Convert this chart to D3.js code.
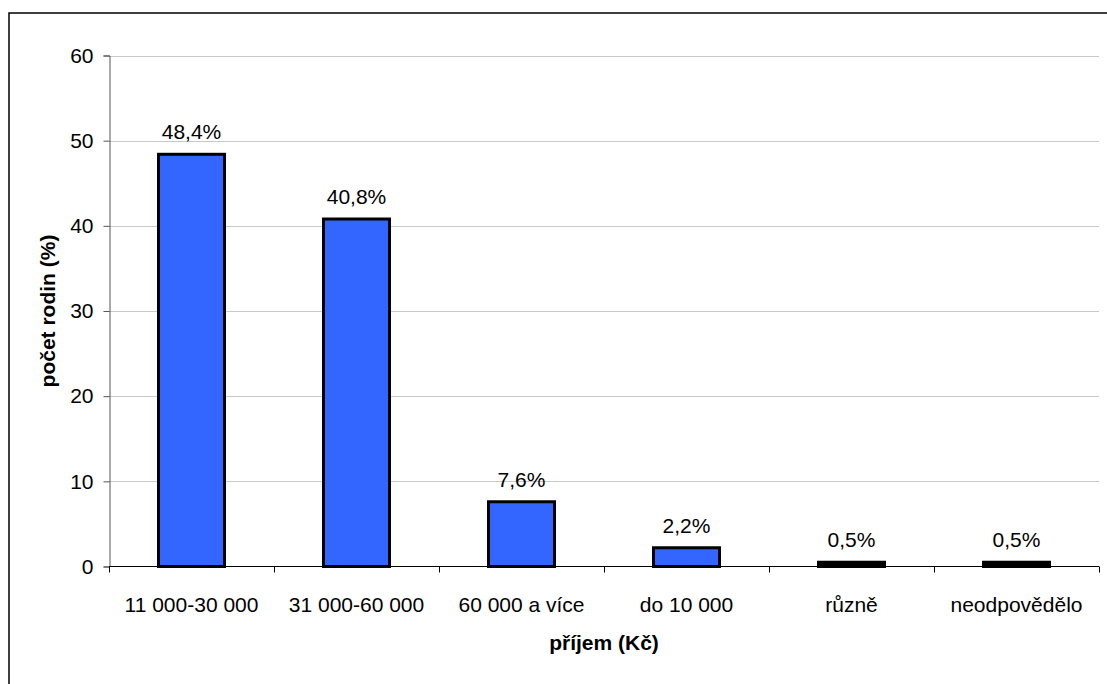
<!DOCTYPE html>
<html><head><meta charset="utf-8">
<script src="https://cdn.jsdelivr.net/npm/d3@7"></script>
<style>
html,body{margin:0;padding:0;background:#fff;}
text{font-family:"Liberation Sans",Arial,sans-serif;}
</style></head>
<body><svg id="c" width="1107" height="684"></svg>
<script>
const categories = ["11 000-30 000","31 000-60 000","60 000 a více","do 10 000","různě","neodpovědělo"];
const values = [48.4, 40.8, 7.6, 2.2, 0.5, 0.5];
const valueLabels = ["48,4%","40,8%","7,6%","2,2%","0,5%","0,5%"];
const yTicks = [0,10,20,30,40,50,60];
const yTitle = "počet rodin (%)";
const xTitle = "příjem (Kč)";

const svg = d3.select("#c");
const m = {left:109, right:1099, top:55.5, bottom:566.5};

// outer frame
svg.append("rect").attr("x",9).attr("y",13).attr("width",1200).attr("height",800)
  .attr("fill","none").attr("stroke","#000").attr("stroke-width",1.5);

const x = d3.scaleBand().domain(categories).range([m.left,m.right]).paddingInner(0.6).paddingOuter(0.3);
const y = d3.scaleLinear().domain([0,60]).range([m.bottom,m.top]);

// gridlines
svg.append("g").selectAll("line").data(yTicks.filter(d=>d>0)).join("line")
  .attr("x1",m.left).attr("x2",m.right)
  .attr("y1",d=>Math.round(y(d))+0.5).attr("y2",d=>Math.round(y(d))+0.5)
  .attr("stroke","#c8c8c8").attr("stroke-width",1.2);

// y axis
const ya = svg.append("g").attr("transform",`translate(${m.left+0.5},0)`)
  .call(d3.axisLeft(y).tickValues(yTicks).tickSize(6).tickPadding(10).tickFormat(d3.format("d")));
ya.select(".domain").attr("stroke","#555");
ya.selectAll(".tick line").attr("stroke","#555");
ya.selectAll("text").attr("font-size","21px").attr("fill","#000").style("font-family","Liberation Sans, Arial, sans-serif");

// bars
const sw = 3;
svg.append("g").selectAll("rect").data(values).join("rect")
  .attr("x",(d,i)=>x(categories[i]))
  .attr("width",x.bandwidth())
  .attr("y",d=>y(d))
  .attr("height",d=>y(0)-y(d))
  .attr("fill",d=>(y(0)-y(d)) < 2*sw ? "#000" : "#3366FF")
  .attr("stroke","#000").attr("stroke-width",sw);

// x axis
const xTickPos = d3.range(categories.length+1).map(i=>m.left + i*(m.right-m.left)/categories.length);
const xa = svg.append("g");
xa.append("line").attr("x1",m.left).attr("x2",m.right).attr("y1",m.bottom).attr("y2",m.bottom)
  .attr("stroke","#000").attr("stroke-width",1.2);
xa.selectAll("line.t").data(xTickPos).join("line").attr("class","t")
  .attr("x1",d=>d+0.5).attr("x2",d=>d+0.5).attr("y1",m.bottom).attr("y2",m.bottom+6)
  .attr("stroke","#000").attr("stroke-width",1);
xa.selectAll("text").data(categories).join("text")
  .attr("x",d=>x(d)+x.bandwidth()/2).attr("y",612)
  .attr("text-anchor","middle").attr("font-size","21px").attr("fill","#000")
  .text(d=>d);

// value labels
svg.append("g").selectAll("text").data(values).join("text")
  .attr("x",(d,i)=>x(categories[i])+x.bandwidth()/2)
  .attr("y",d=>y(d)-15)
  .attr("text-anchor","middle").attr("font-size","21px").attr("fill","#000")
  .text((d,i)=>valueLabels[i]);

// titles
svg.append("text").attr("x",(m.left+m.right)/2).attr("y",650)
  .attr("text-anchor","middle").attr("font-size","21px").attr("font-weight","bold").text(xTitle);
svg.append("text").attr("transform",`translate(55,${(m.top+m.bottom)/2}) rotate(-90)`)
  .attr("text-anchor","middle").attr("font-size","21px").attr("font-weight","bold").text(yTitle);
</script></body></html>
